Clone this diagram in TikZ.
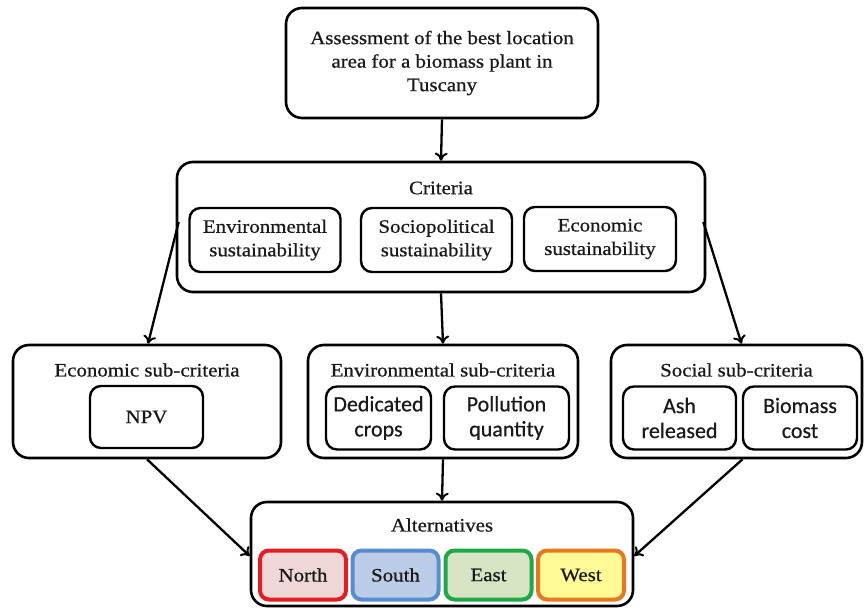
\documentclass[tikz,border=0pt]{standalone}
\usepackage{fontspec}
\setmainfont[FakeStretch=1.1,RawFeature={embolden=0.7}]{Liberation Serif}
\newfontfamily\sansf[RawFeature={embolden=0.5}]{Carlito}
\usetikzlibrary{arrows.meta,calc}
\definecolor{nborder}{RGB}{228,28,36}
\definecolor{nfill}{RGB}{240,215,215}
\definecolor{sborder}{RGB}{88,140,208}
\definecolor{sfill}{RGB}{186,204,230}
\definecolor{eborder}{RGB}{30,168,72}
\definecolor{efill}{RGB}{214,228,196}
\definecolor{wborder}{RGB}{230,120,30}
\definecolor{wfill}{RGB}{255,250,150}
\definecolor{txt}{RGB}{25,25,25}
\tikzset{
  outerbox/.style={draw=black,line width=2.6pt,rounded corners=16pt,inner sep=0pt},
  innerbox/.style={draw=black,line width=2.4pt,rounded corners=11pt,inner sep=0pt,align=center,text=txt,
     font=\fontsize{19}{23.5}\selectfont},
  sbox/.style={innerbox,font=\sansf\fontsize{22}{25}\selectfont},
  altbox/.style={line width=4pt,rounded corners=9pt,inner sep=0pt,minimum width=86pt,minimum height=49pt,
     text=txt,font=\fontsize{19}{23}\selectfont},
  ttl/.style={text=txt,font=\fontsize{19}{23}\selectfont,inner sep=0pt},
  conn/.style={line width=2.3pt,-{To[length=8pt,width=13pt,line width=2pt]}}
}
\begin{document}
\begin{tikzpicture}[x=1pt,y=-1pt]
\useasboundingbox (0,0) rectangle (865,609);
% top
\node[innerbox,line width=2.6pt,rounded corners=16pt,minimum width=312pt,minimum height=110pt] (top) at (442,63)
  {Assessment of the best location\\area for a biomass plant in\\Tuscany};
% criteria
\node[outerbox,minimum width=528pt,minimum height=130pt] (crit) at (441,227) {};
\node[ttl] (crittl) at (441,188) {Criteria};
\node[innerbox,minimum width=151pt,minimum height=64pt] (env) at (265,240) {Environmental\\sustainability};
\node[innerbox,minimum width=151pt,minimum height=64pt] (soc) at (436.5,240) {Sociopolitical\\sustainability};
\node[innerbox,minimum width=152pt,minimum height=64pt] (eco) at (600,239) {Economic\\sustainability};
% economic sub
\node[outerbox,minimum width=268pt,minimum height=113pt] (ecosub) at (147,401.5) {};
\node[ttl] (ecosubtl) at (147,370) {Economic sub-criteria};
\node[innerbox,minimum width=113pt,minimum height=62pt] (npv) at (146.5,417) {NPV};
% environmental sub
\node[outerbox,minimum width=270pt,minimum height=113pt] (envsub) at (443,401.5) {};
\node[ttl] (envsubtl) at (443,370) {Environmental sub-criteria};
\node[sbox,minimum width=105pt,minimum height=63pt] (ded) at (378.5,418) {Dedicated\\crops};
\node[sbox,minimum width=125pt,minimum height=63pt] (pol) at (506.5,418) {Pollution\\quantity};
% social sub
\node[outerbox,minimum width=251pt,minimum height=113pt] (socsub) at (736.5,401.5) {};
\node[ttl] (socsubtl) at (736.5,370) {Social sub-criteria};
\node[sbox,minimum width=113pt,minimum height=63pt] (ash) at (679.5,418) {Ash\\released};
\node[sbox,minimum width=114pt,minimum height=63pt] (bio) at (800,418) {Biomass\\cost};
% alternatives
\node[outerbox,minimum width=382pt,minimum height=104pt] (alt) at (442,554) {};
\node[ttl] (alttl) at (442,525) {Alternatives};
\node[altbox,draw=nborder,fill=nfill] (north) at (303,575) {North};
\node[altbox,draw=sborder,fill=sfill] (south) at (395.5,575) {South};
\node[altbox,draw=eborder,fill=efill] (east) at (488.5,575) {East};
\node[altbox,draw=wborder,fill=wfill] (west) at (581,575) {West};
% connectors
\draw[conn] (top.south) -- (crit.north);
\draw[conn] ($(crit.west)+(3,-5)$) -- ($(ecosub.north)+(1,0)$);
\draw[conn] (crit.south) -- (envsub.north);
\draw[conn] ($(crit.east)+(-3,-5)$) -- ($(socsub.north)+(5,0)$);
\draw[conn] (ecosub.south) -- ($(alt.west)+(0,2)$);
\draw[conn] (envsub.south) -- (alt.north);
\draw[conn] ($(socsub.south)+(6,0)$) -- ($(alt.east)+(0,2)$);
\end{tikzpicture}
\end{document}
